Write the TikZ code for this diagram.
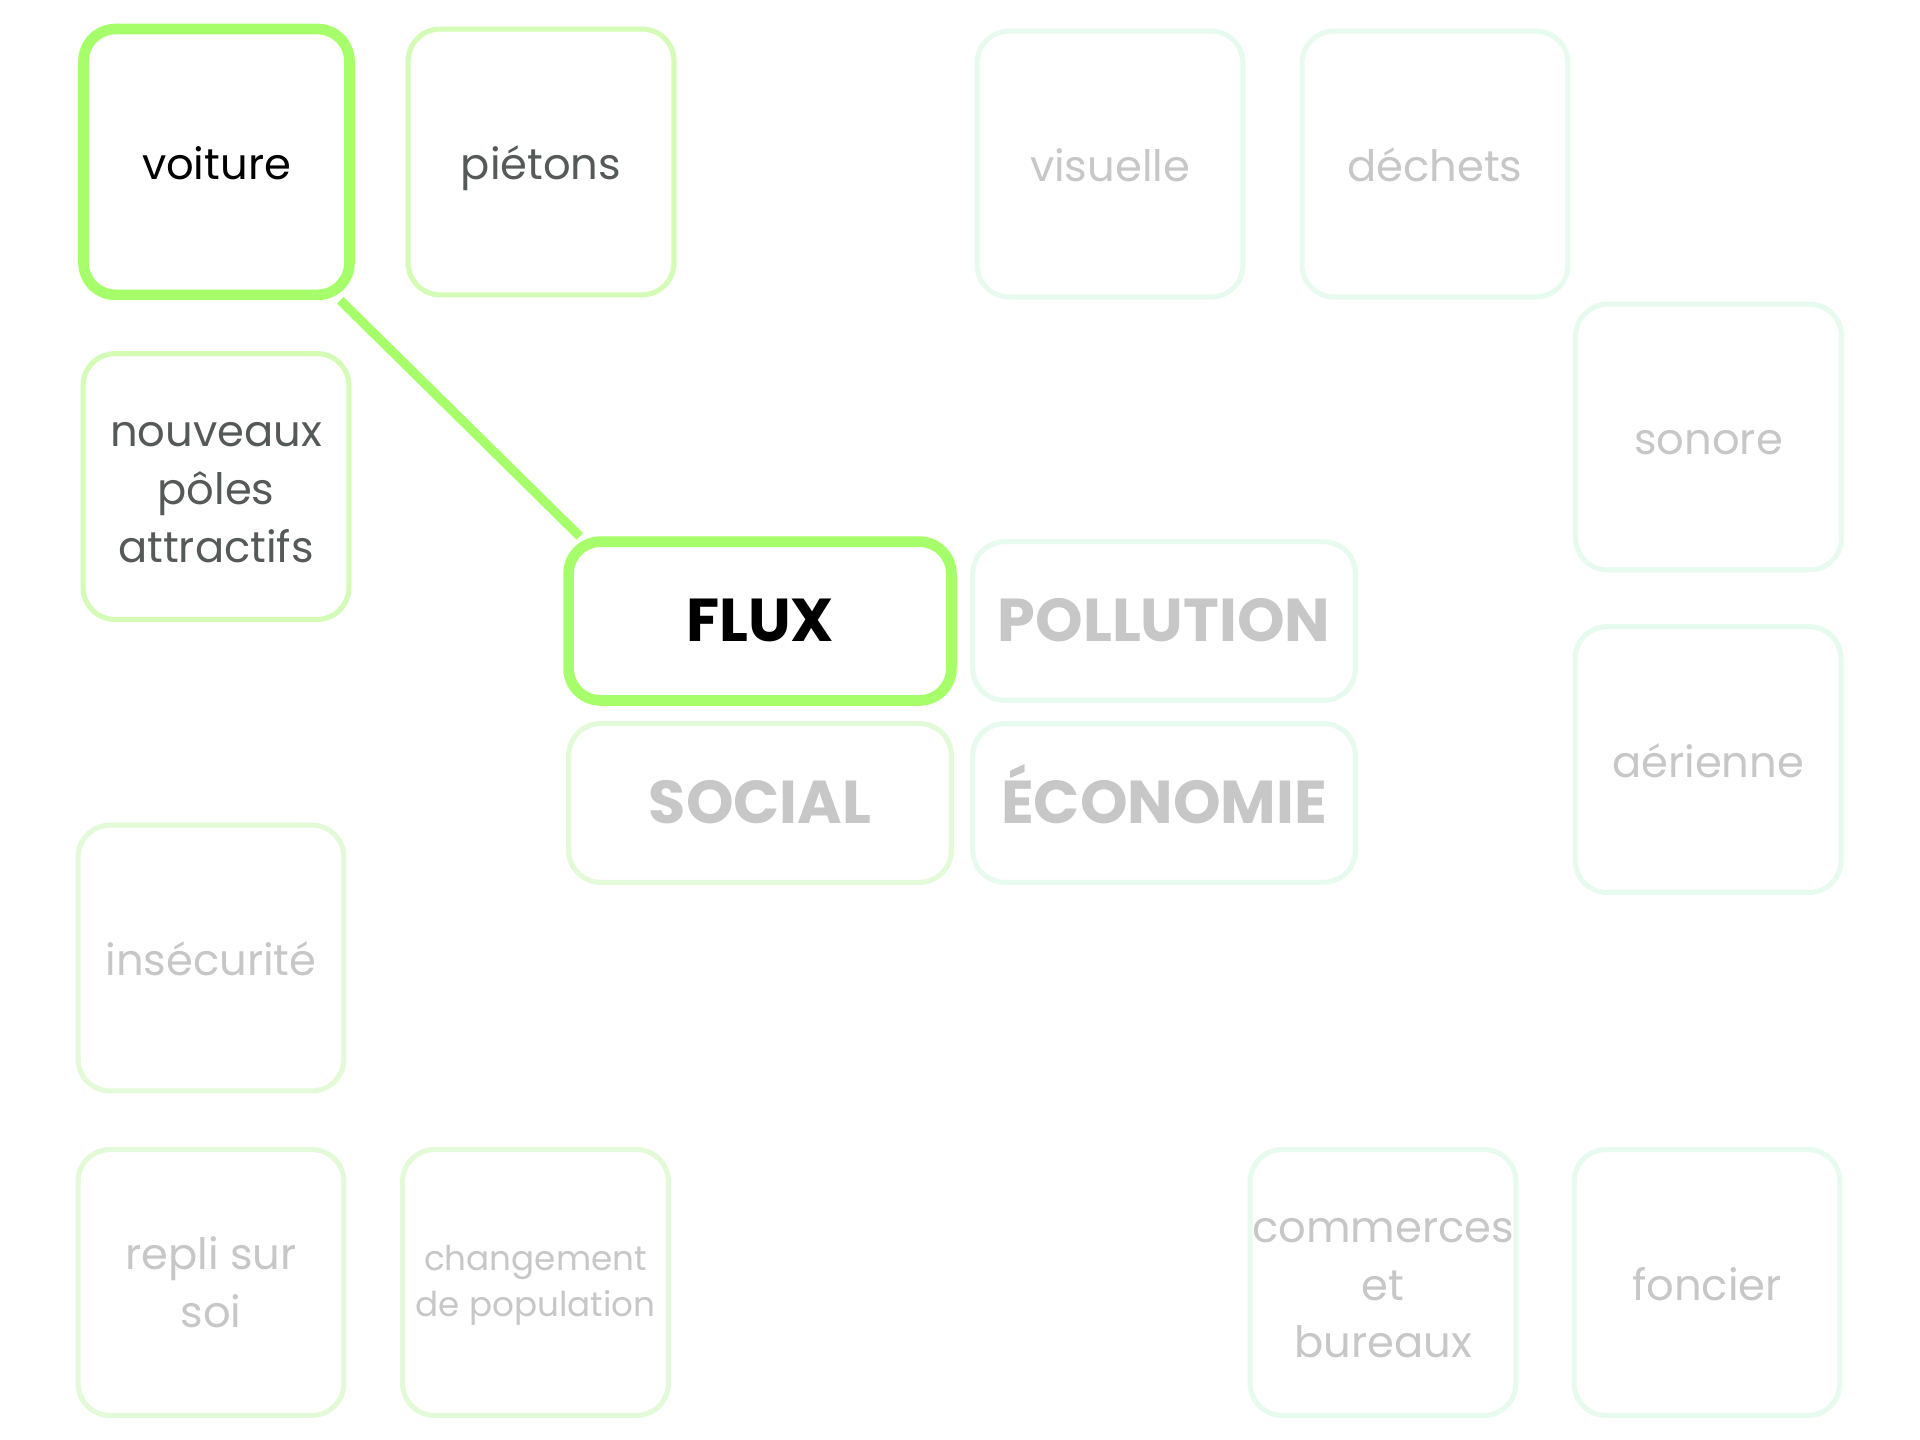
\documentclass[tikz,border=0pt]{standalone}
\usepackage{fontspec}
\setmainfont{Poppins}
\definecolor{vertvif}{HTML}{A6FF6A}
\definecolor{vertclair}{HTML}{D4FCB6}
\definecolor{vertpale}{HTML}{E3FAD8}
\definecolor{menthe}{HTML}{E6FBEE}
\definecolor{gristexte}{HTML}{555958}
\definecolor{grisclair}{HTML}{C6C7C6}
\begin{document}
\begin{tikzpicture}[
    carte/.style={rectangle, draw, rounded corners=0.26cm, fill=white, minimum width=2.16cm, minimum height=2.16cm, inner sep=0pt, align=center, line width=0.041cm, font=\fontsize{10}{13.4}\selectfont},
    mot/.style={carte, text height=8.2pt, text depth=0pt},
    theme/.style={carte, minimum width=3.11cm, minimum height=1.29cm, text height=9.6pt, text depth=0pt, font=\fontsize{14}{17}\selectfont\bfseries},
    actif/.style={draw=vertvif, line width=0.087cm, text=black},
    proche/.style={draw=vertclair, text=gristexte},
    social/.style={draw=vertpale, text=grisclair},
    loin/.style={draw=menthe, text=grisclair},
    lien/.style={draw=vertvif, line width=0.075cm}
]
    \useasboundingbox[fill=white] (0,0) rectangle (15.6,-11.7);

    % Themes
    \node[theme, actif] (flux) at (6.175,-5.046) {FLUX};
    \node[theme, loin] (pollution) at (9.458,-5.046) {POLLUTION};
    \node[theme, social] (socialbox) at (6.175,-6.524) {SOCIAL};
    \node[theme, loin] (economie) at (9.458,-6.524) {ÉCONOMIE};

    % Flux
    \node[mot, actif] (voiture) at (1.759,-1.316) {voiture};
    \node[mot, proche] (pietons) at (4.396,-1.316) {piétons};
    \node[carte, proche] (poles) at (1.755,-3.953) {\rule{0pt}{8.2pt}nouveaux\\pôles\\attractifs};

    % Pollution
    \node[mot, loin] (visuelle) at (9.019,-1.333) {visuelle};
    \node[mot, loin] (dechets) at (11.659,-1.333) {déchets};
    \node[mot, loin] (sonore) at (13.882,-3.551) {sonore};
    \node[mot, loin] (aerienne) at (13.878,-6.171) {aérienne};

    % Social
    \node[mot, social] (insecurite) at (1.714,-7.784) {insécurité};
    \node[carte, social] (repli) at (1.714,-10.42) {repli sur\\soi};
    \node[carte, social, font=\fontsize{7.9}{10.6}\selectfont] (population) at (4.351,-10.42) {\rule{0pt}{7pt}changement\\de population};

    % Economie
    \node[carte, loin] (commerces) at (11.237,-10.42) {\rule{0pt}{8.2pt}commerces\\et\\bureaux};
    \node[mot, loin] (foncier) at (13.869,-10.42) {foncier};

    % Lien
    \draw[lien] ([xshift=-0.118cm]voiture.south east) -- ([xshift=0.134cm]flux.north west);
\end{tikzpicture}
\end{document}
